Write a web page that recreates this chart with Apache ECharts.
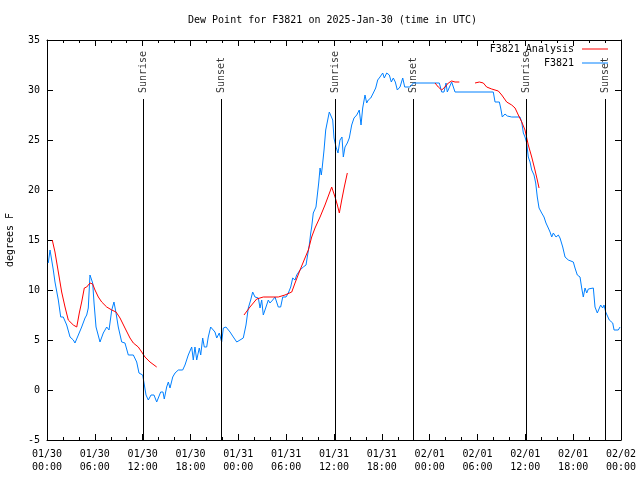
<!DOCTYPE html>
<html>
<head>
<meta charset="utf-8">
<script src="https://cdn.jsdelivr.net/npm/echarts@6/dist/echarts.min.js"></script>
<style>html,body{margin:0;padding:0;background:#fff}#c{width:640px;height:480px}</style>
</head>
<body>
<div id="c"></div>
<script>
// x values are hours since 2025-01-30 00:00 UTC
var xTickLabels = ['01/30\n00:00','01/30\n06:00','01/30\n12:00','01/30\n18:00','01/31\n00:00','01/31\n06:00','01/31\n12:00','01/31\n18:00','02/01\n00:00','02/01\n06:00','02/01\n12:00','02/01\n18:00','02/02\n00:00'];
var yTicks = [-5, 0, 5, 10, 15, 20, 25, 30, 35];

var obsHours = [0.16,0.38,0.59,0.79,1.0,1.42,1.72,2.04,2.47,2.89,3.30,3.51,3.73,3.93,4.35,4.77,4.98,5.18,5.39,5.61,5.73,5.90,6.15,6.65,7.06,7.49,7.78,8.12,8.40,8.66,8.94,9.37,9.78,10.20,10.83,11.25,11.54,12.0,12.17,12.42,12.71,13.05,13.42,13.76,13.96,14.26,14.55,14.71,15.01,15.22,15.43,15.77,16.06,16.47,17.02,17.31,17.72,18.15,18.35,18.56,18.78,19.10,19.28,19.53,19.73,20.03,20.23,20.53,21.07,21.29,21.61,21.91,22.12,22.45,22.96,23.37,23.80,24.21,24.62,24.96,25.25,25.55,25.80,26.09,26.51,26.72,26.93,27.13,27.47,27.76,27.97,28.31,28.60,29.01,29.31,29.57,29.98,30.27,30.57,30.82,31.11,31.32,31.74,32.15,32.49,32.65,32.90,33.08,33.20,33.40,33.74,33.91,34.08,34.25,34.41,34.53,34.75,34.96,35.16,35.41,35.62,35.84,36.00,36.25,36.50,36.75,37.00,37.17,37.38,37.67,37.92,38.22,38.51,38.85,39.17,39.39,39.60,39.89,40.10,40.30,40.61,40.93,41.23,41.48,41.77,42.11,42.31,42.61,42.94,43.19,43.44,43.69,43.94,44.28,44.62,44.87,45.53,45.95,46.79,48.04,48.67,48.88,49.21,49.51,49.80,50.05,50.21,50.46,50.76,50.97,51.18,55.98,56.20,56.74,56.91,57.11,57.45,57.74,58.29,59.33,59.55,59.75,59.96,60.17,60.37,60.59,60.80,61.09,61.30,61.50,61.72,62.05,62.34,62.59,62.88,63.10,63.31,63.51,63.85,64.14,64.35,64.69,64.98,65.39,66.02,66.23,66.52,66.86,67.07,67.27,67.49,67.70,67.90,68.11,68.53,68.74,69.03,69.24,69.45,69.70,69.87,70.08,70.33,70.53,70.71,70.96,71.13,71.66,71.88];
var obsValues = [12.7,14.0,13.8,12.0,10.8,9.0,7.3,7.3,6.5,5.3,5.0,4.7,4.7,5.5,6.3,7.2,7.5,8.2,11.5,11.3,10.7,8.7,6.3,4.8,5.7,6.3,6.0,8.0,8.8,7.7,6.3,4.8,4.7,3.5,3.5,2.8,1.7,1.5,0.7,-0.5,-1.0,-0.5,-0.5,-1.2,-1.0,-0.2,-0.2,-0.9,0.3,0.8,0.2,1.3,1.7,2.0,2.0,2.5,3.5,4.3,3.0,4.3,3.0,4.2,3.5,5.2,4.3,4.3,5.3,6.3,5.8,5.2,5.7,4.8,6.2,6.3,5.8,5.3,4.8,5.0,5.2,6.5,8.2,9.0,9.8,9.3,9.2,8.2,9.0,7.5,8.3,9.0,8.7,9.0,9.3,8.3,8.3,9.3,9.3,9.7,10.3,11.2,11.0,11.5,12.0,12.3,12.5,13.3,14.5,15.7,16.3,17.7,18.3,19.5,20.7,22.2,21.5,22.3,24.0,26.0,26.8,27.8,27.8,27.0,25.2,24.3,23.7,25.0,25.3,23.3,24.3,24.7,25.2,26.5,27.2,27.5,28.0,26.5,28.2,29.5,28.7,29.0,29.2,29.7,30.2,31.0,31.3,31.7,31.2,31.7,31.5,30.8,31.2,30.8,30.0,30.3,31.2,30.3,30.3,30.7,30.7,30.7,30.7,30.5,30.7,29.8,29.8,30.7,29.8,29.8,30.8,30.7,29.8,29.8,28.8,28.8,28.2,27.3,27.6,27.4,27.3,27.3,26.8,25.7,25.3,24.7,23.3,22.8,22.0,21.5,20.7,19.3,18.2,17.7,17.3,16.7,16.2,15.8,15.3,15.7,15.3,15.5,15.2,14.3,13.3,13.0,12.8,12.2,11.5,11.3,10.2,9.3,10.2,9.7,10.1,10.2,10.2,8.3,7.7,7.7,8.5,8.2,8.5,7.8,7.7,7.0,7.0,6.7,6.0,6.0,6.3];

// analysis: null hour marks a gap
var anaHours = [0.66,1.0,1.42,1.84,2.26,2.67,3.30,3.73,4.05,4.35,4.68,4.98,5.39,5.73,6.02,6.44,6.86,7.49,8.12,8.66,9.16,9.78,10.41,10.83,11.45,11.88,12.29,12.92,13.76,null,24.71,25.46,26.30,27.13,27.97,29.01,29.85,30.70,31.11,31.74,32.36,32.78,33.20,33.62,34.25,34.87,35.71,36.13,36.42,36.67,36.97,37.29,37.67,null,48.67,49.08,49.51,49.92,50.34,50.76,51.18,51.72,null,53.69,54.23,54.73,55.15,55.78,56.61,57.04,57.66,58.29,58.71,59.12,59.55,59.96,60.37,60.80,61.21,61.50,61.72];
var anaValues = [15.0,13.8,11.8,9.8,8.3,7.0,6.5,6.3,7.7,8.8,10.2,10.3,10.7,10.6,10.0,9.3,8.8,8.3,8.0,7.8,7.2,6.2,5.2,4.7,4.3,3.8,3.3,2.8,2.3,null,7.5,8.3,9.1,9.3,9.3,9.3,9.5,9.8,10.7,12.0,13.2,14.0,15.3,16.2,17.3,18.5,20.3,19.3,18.5,17.7,19.0,20.3,21.7,null,30.7,30.3,30.0,30.3,30.7,30.9,30.8,30.8,null,30.7,30.8,30.7,30.3,30.1,29.9,29.5,28.8,28.5,28.2,27.5,26.8,26.0,24.5,23.3,22.0,21.0,20.2];

var sunHours = [12.08, 21.91, 36.17, 45.95, 60.12, 70.03];
var sunNames = ['Sunrise','Sunset','Sunrise','Sunset','Sunrise','Sunset'];
var sunLineTop = 29.1;

var FONT = '"DejaVu Sans Mono", "Liberation Mono", monospace';

function pairs(xs, ys) {
  return xs.map(function (x, i) { return x === null ? null : [x, ys[i]]; });
}

var sunLines = sunHours.map(function (h) {
  return [{ coord: [h, -5] }, { coord: [h, sunLineTop] }];
});
var sunLabels = sunHours.map(function (h, i) { return [h, sunLineTop, sunNames[i]]; });

var axisCommon = {
  axisLine: { show: true, onZero: false, lineStyle: { color: '#000', width: 1 } },
  splitLine: { show: false }
};

var chart = echarts.init(document.getElementById('c'), null, { renderer: 'canvas' });
chart.setOption({
  animation: false,
  backgroundColor: '#fff',
  title: {
    text: 'Dew Point for F3821 on 2025-Jan-30 (time in UTC)',
    left: 188, top: 15, padding: 0,
    textStyle: { fontFamily: FONT, fontSize: 10, fontWeight: 'normal', color: '#000' }
  },
  legend: {
    data: ['F3821 Analysis', 'F3821'],
    orient: 'vertical',
    right: 32, top: 43, padding: 0,
    align: 'right',
    icon: 'rect',
    itemWidth: 26, itemHeight: 1,
    itemGap: 2,
    textStyle: { fontFamily: FONT, fontSize: 10, color: '#000', lineHeight: 12, padding: [0, 3, 0, 0] }
  },
  grid: { left: 47, right: 19, top: 40, bottom: 40, outerBoundsMode: 'none', containLabel: false },
  xAxis: [
    Object.assign({}, axisCommon, {
      type: 'value', min: 0, max: 72, interval: 6, position: 'bottom',
      axisTick: { show: true, inside: true, length: 6, lineStyle: { color: '#000' } },
      minorTick: { show: true, splitNumber: 3, length: 3, lineStyle: { color: '#000' } },
      axisLabel: {
        margin: 8, color: '#000', fontFamily: FONT, fontSize: 10, lineHeight: 13,
        formatter: function (v) { return xTickLabels[Math.round(v / 6)]; }
      }
    }),
    Object.assign({}, axisCommon, {
      type: 'value', min: 0, max: 72, interval: 6, position: 'top',
      axisTick: { show: true, inside: true, length: 6, lineStyle: { color: '#000' } },
      minorTick: { show: true, splitNumber: 3, length: 3, lineStyle: { color: '#000' } },
      axisLabel: { show: false }
    })
  ],
  yAxis: [
    Object.assign({}, axisCommon, {
      type: 'value', min: yTicks[0], max: yTicks[yTicks.length - 1], interval: 5, position: 'left',
      name: 'degrees F', nameLocation: 'middle', nameGap: 32, nameRotate: 90,
      nameTextStyle: { fontFamily: FONT, fontSize: 10, color: '#000' },
      axisTick: { show: true, inside: true, length: 6, lineStyle: { color: '#000' } },
      axisLabel: { margin: 7, color: '#000', fontFamily: FONT, fontSize: 10 }
    }),
    Object.assign({}, axisCommon, {
      type: 'value', min: yTicks[0], max: yTicks[yTicks.length - 1], interval: 5, position: 'right',
      axisTick: { show: true, inside: true, length: 6, lineStyle: { color: '#000' } },
      axisLabel: { show: false }
    })
  ],
  series: [
    {
      name: 'sun', type: 'scatter', xAxisIndex: 0, yAxisIndex: 0,
      data: sunLabels, symbolSize: 0, silent: true, z: 1,
      label: {
        show: true, position: 'top', distance: 6, rotate: 90,
        align: 'left', verticalAlign: 'middle',
        fontFamily: FONT, fontSize: 10, color: '#000',
        formatter: function (p) { return p.value[2]; }
      },
      markLine: {
        silent: true, symbol: 'none', animation: false,
        label: { show: false },
        lineStyle: { color: '#000', width: 1, type: 'solid' },
        data: sunLines
      }
    },
    {
      name: 'F3821', type: 'line', xAxisIndex: 0, yAxisIndex: 0,
      data: pairs(obsHours, obsValues),
      showSymbol: false, symbol: 'none', z: 3,
      lineStyle: { color: '#0080ff', width: 1 }, itemStyle: { color: '#0080ff' }
    },
    {
      name: 'F3821 Analysis', type: 'line', xAxisIndex: 0, yAxisIndex: 0,
      data: pairs(anaHours, anaValues), connectNulls: false,
      showSymbol: false, symbol: 'none', z: 4,
      lineStyle: { color: '#ff0000', width: 1 }, itemStyle: { color: '#ff0000' }
    }
  ]
});
</script>
</body>
</html>
